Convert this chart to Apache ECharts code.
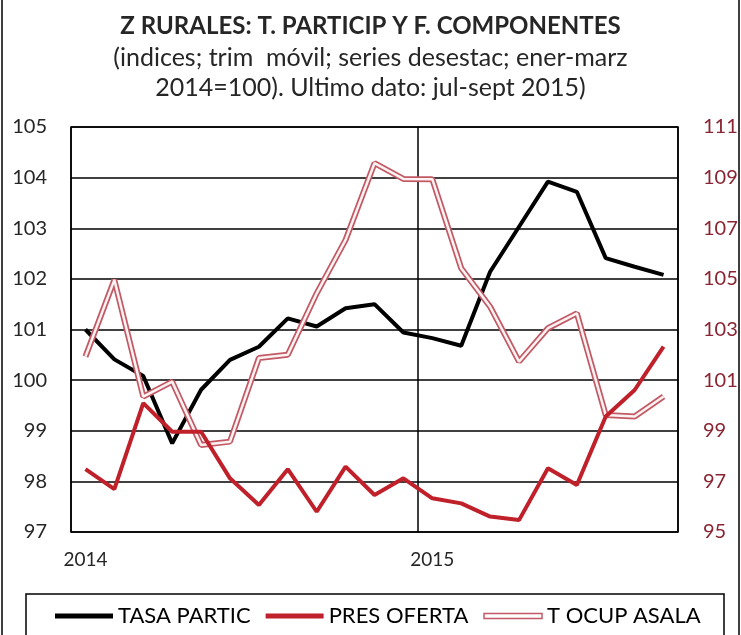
<!DOCTYPE html>
<html>
<head>
<meta charset="utf-8">
<script src="https://cdn.jsdelivr.net/npm/echarts@6/dist/echarts.min.js"></script>
<style>
  html, body { margin: 0; padding: 0; background: #fff; }
  #chart { width: 741px; height: 635px; }
</style>
</head>
<body>
<div id="chart"></div>
<script>
// meses (trimestre móvil que termina en el mes)
const categories = [
  'ene 2014', 'feb 2014', 'mar 2014', 'abr 2014', 'may 2014', 'jun 2014',
  'jul 2014', 'ago 2014', 'sep 2014', 'oct 2014', 'nov 2014', 'dic 2014',
  'ene 2015', 'feb 2015', 'mar 2015', 'abr 2015', 'may 2015', 'jun 2015',
  'jul 2015', 'ago 2015', 'sep 2015'
]
const yearLabels = { 0: '2014', 12: '2015' }

// eje izquierdo
const tasaPartic = [
  101.0, 100.41, 100.08, 98.75, 99.81, 100.4, 100.66, 101.22, 101.06, 101.42, 101.5,
  100.94, 100.83, 100.68, 102.14, 103.03, 103.92, 103.72, 102.41, 102.24, 102.08
]
// eje derecho
const presOferta = [
  97.48, 96.69, 100.09, 98.96, 98.96, 97.12, 96.07, 97.48, 95.8, 97.58, 96.46,
  97.12, 96.33, 96.13, 95.61, 95.47, 97.52, 96.86, 99.56, 100.61, 102.32
]
const tOcupAsala = [
  101.93, 104.96, 100.35, 100.94, 98.44, 98.57, 101.87, 102.0, 104.43, 106.54, 109.57,
  108.95, 108.94, 105.42, 103.9, 101.73, 103.05, 103.64, 99.62, 99.56, 100.35
]

const FONT = 'Lato, "Open Sans", sans-serif'
const RED = '#c0202a'
const PINK = '#c25a66'

const chart = echarts.init(document.getElementById('chart'))

const option = {
  backgroundColor: '#fff',
  animation: false,
  title: {
    text: 'Z RURALES: T. PARTICIP Y F. COMPONENTES',
    subtext: '(indices; trim  móvil; series desestac; ener-marz\n2014=100). Ultimo dato: jul-sept 2015)',
    left: 'center',
    top: 9,
    padding: [5, 20, 5, 5],
    itemGap: 5,
    textStyle: { fontFamily: FONT, fontSize: 24, fontWeight: 'bold', color: '#262626' },
    subtextStyle: { fontFamily: FONT, fontSize: 25, color: '#262626', lineHeight: 30, align: 'center' }
  },
  graphic: [
    { type: 'rect', shape: { x: 2, y: -5, width: 737, height: 650 }, style: { fill: 'none', stroke: '#000', lineWidth: 1.5 }, silent: true },
    { type: 'rect', shape: { x: 26, y: 594, width: 698, height: 60 }, style: { fill: 'none', stroke: '#000', lineWidth: 1.5 }, silent: true }
  ],
  legend: {
    left: 50,
    top: 600,
    itemWidth: 58,
    itemHeight: 5,
    itemGap: 15,
    textStyle: { fontFamily: FONT, fontSize: 22, color: '#000' },
    data: [
      { name: 'TASA PARTIC', icon: 'rect', itemStyle: { color: '#000', borderWidth: 0 } },
      { name: 'PRES OFERTA', icon: 'rect', itemStyle: { color: RED, borderWidth: 0 } },
      { name: 'T OCUP ASALA', icon: 'rect', itemStyle: { color: '#fff', borderColor: PINK, borderWidth: 1.5 } }
    ]
  },
  grid: {
    left: 71,
    right: 63,
    top: 127,
    bottom: 103,
    show: true,
    borderColor: '#000',
    borderWidth: 1.5
  },
  xAxis: {
    type: 'category',
    data: categories,
    boundaryGap: true,
    axisLine: { show: false },
    axisTick: { show: false },
    axisLabel: {
      interval: (i) => i in yearLabels,
      formatter: (v, i) => yearLabels[i] || '',
      margin: 18,
      fontFamily: FONT,
      fontSize: 19,
      color: '#262626'
    },
    splitLine: {
      show: true,
      interval: (i) => i === 0 || i === 12,
      lineStyle: { color: '#000', width: 1.5 }
    }
  },
  yAxis: [
    {
      type: 'value',
      min: 97,
      max: 105,
      interval: 1,
      axisLine: { show: false },
      axisTick: { show: false },
      axisLabel: { margin: 24, fontFamily: FONT, fontSize: 20, color: '#262626' },
      splitLine: { lineStyle: { color: '#000', width: 1.5 } }
    },
    {
      type: 'value',
      min: 95,
      max: 111,
      alignTicks: true,
      position: 'right',
      axisLine: { show: false },
      axisTick: { show: false },
      axisLabel: { margin: 25, fontFamily: FONT, fontSize: 20, color: '#8a2432' },
      splitLine: { show: false }
    }
  ],
  series: [
    {
      name: 'TASA PARTIC',
      type: 'line',
      data: tasaPartic,
      symbol: 'none',
      lineStyle: { color: '#000', width: 4 },
      itemStyle: { color: '#000' },
      z: 3
    },
    {
      name: 'T OCUP ASALA',
      type: 'line',
      yAxisIndex: 1,
      data: tOcupAsala,
      symbol: 'none',
      lineStyle: { color: PINK, width: 6 },
      itemStyle: { color: PINK },
      z: 4
    },
    {
      name: 'T OCUP ASALA ',
      type: 'line',
      yAxisIndex: 1,
      data: tOcupAsala,
      symbol: 'none',
      silent: true,
      lineStyle: { color: '#fdf2f2', width: 2.5 },
      z: 5
    },
    {
      name: 'PRES OFERTA',
      type: 'line',
      yAxisIndex: 1,
      data: presOferta,
      symbol: 'none',
      lineStyle: { color: RED, width: 4 },
      itemStyle: { color: RED },
      z: 6
    }
  ]
}

chart.setOption(option)
</script>
</body>
</html>
